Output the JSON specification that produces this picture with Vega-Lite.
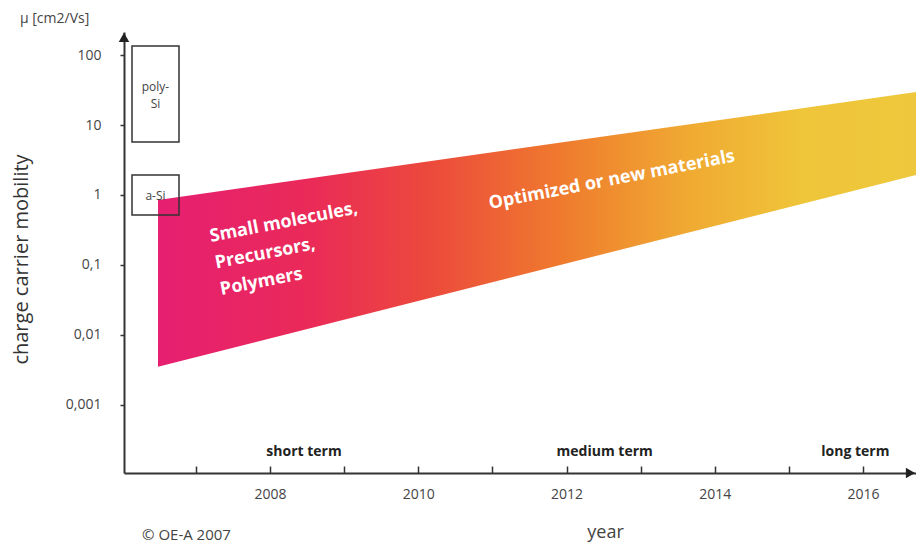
{
  "$schema": "https://vega.github.io/schema/vega-lite/v6.json",
  "width": 792,
  "height": 441,
  "autosize": {"type": "none"},
  "padding": {"left": 124, "top": 32, "right": 0, "bottom": 70},
  "background": "white",
  "config": {
    "view": {"stroke": null},
    "font": "Open Sans",
    "title": {"font": "Open Sans", "fontSize": 14, "fontWeight": "normal", "color": "#444"}
  },
  "title": {"text": "μ [cm2/Vs]", "anchor": "start", "frame": "group", "dx": -104, "offset": 6},
  "datasets": {
    "band": [
      {"year": 2006.489, "lo": 0.00349, "hi": 0.848},
      {"year": 2016.715, "lo": 1.93, "hi": 29.8}
    ],
    "boxes": [
      {"name": "poly-Si", "x1": 2006.138, "x2": 2006.772, "top": 135.7, "bottom": 5.74},
      {"name": "a-Si", "x1": 2006.138, "x2": 2006.772, "top": 1.93, "bottom": 0.517}
    ],
    "boxlabels": [
      {"label": "poly-", "year": 2006.455, "mu": 35.1},
      {"label": "Si", "year": 2006.455, "mu": 20.1},
      {"label": "a-Si", "year": 2006.455, "mu": 0.967}
    ],
    "bandlabels": [
      {"label": "Small molecules,\nPrecursors,\nPolymers", "year": 2007.204, "mu": 0.2125},
      {"label": "Optimized or new materials", "year": 2010.968, "mu": 0.63}
    ],
    "terms": [
      {"label": "short term", "year": 2008.458, "mu": 0.00021},
      {"label": "medium term", "year": 2012.515, "mu": 0.00021},
      {"label": "long term", "year": 2015.897, "mu": 0.00021}
    ],
    "credit": [
      {"label": "© OE-A 2007", "year": 2006.273, "mu": 0.0000136}
    ],
    "arrowY": [{"year": 2006.03, "mu": 180}],
    "arrowX": [{"year": 2016.64, "mu": 0.000105}]
  },
  "layer": [
    {
      "data": {"name": "band"},
      "mark": {
        "type": "area",
        "orient": "vertical",
        "fill": {
          "gradient": "linear", "x1": 0, "x2": 1, "y1": 0, "y2": 0,
          "stops": [
            {"offset": 0, "color": "#e61f72"},
            {"offset": 0.2, "color": "#ea2a58"},
            {"offset": 0.36, "color": "#ec4a3c"},
            {"offset": 0.53, "color": "#ef7a2e"},
            {"offset": 0.7, "color": "#f0aa32"},
            {"offset": 0.85, "color": "#efc53a"},
            {"offset": 1, "color": "#eec83c"}
          ]
        }
      },
      "encoding": {
        "x": {
          "field": "year", "type": "quantitative",
          "scale": {"domain": [2006.03, 2016.715], "nice": false, "zero": false},
          "axis": {
            "values": [2007, 2008, 2009, 2010, 2011, 2012, 2013, 2014, 2015, 2016],
            "labelExpr": "datum.value % 2 == 0 ? format(datum.value, 'd') : ''",
            "grid": false,
            "domainColor": "#333", "domainWidth": 2,
            "tickColor": "#333", "tickWidth": 1.5, "tickSize": -7,
            "labelFont": "Open Sans", "labelFontSize": 14, "labelColor": "#444",
            "labelPadding": 21, "labelFlush": false,
            "title": "year", "titleFont": "Open Sans", "titleFontSize": 18, "titleFontWeight": "normal", "titleColor": "#444",
            "titleX": 481, "titleY": 59, "titleAlign": "center", "titleBaseline": "middle"
          }
        },
        "y": {
          "field": "hi", "type": "quantitative",
          "scale": {"type": "log", "domain": [0.000105, 215], "nice": false},
          "axis": {
            "values": [0.001, 0.01, 0.1, 1, 10, 100],
            "labelExpr": "replace(format(datum.value, '~g'), '.', ',')",
            "grid": false,
            "domainColor": "#333", "domainWidth": 2,
            "tickColor": "#333", "tickWidth": 1.5, "tickSize": 4,
            "labelFont": "Open Sans", "labelFontSize": 14, "labelColor": "#444",
            "labelPadding": 19,
            "title": "charge carrier mobility", "titleFont": "Open Sans", "titleFontSize": 20, "titleFontWeight": "normal", "titleColor": "#333",
            "titleAngle": -90, "titleX": -103, "titleY": 227, "titleAlign": "center", "titleBaseline": "middle"
          }
        },
        "y2": {"field": "lo"}
      }
    },
    {
      "data": {"name": "boxes"},
      "mark": {"type": "rect", "fill": null, "stroke": "#333", "strokeWidth": 1.5},
      "encoding": {
        "x": {"field": "x1", "type": "quantitative"},
        "x2": {"field": "x2"},
        "y": {"field": "top", "type": "quantitative"},
        "y2": {"field": "bottom"}
      }
    },
    {
      "data": {"name": "boxlabels"},
      "mark": {"type": "text", "font": "Open Sans", "fontSize": 12, "color": "#444", "align": "center", "baseline": "middle"},
      "encoding": {
        "x": {"field": "year", "type": "quantitative"},
        "y": {"field": "mu", "type": "quantitative"},
        "text": {"field": "label"}
      }
    },
    {
      "data": {"name": "bandlabels"},
      "mark": {"type": "text", "font": "Open Sans", "fontSize": 18, "fontWeight": "bold", "color": "white", "align": "left", "baseline": "alphabetic", "angle": 349, "lineBreak": "\n", "lineHeight": 27},
      "encoding": {
        "x": {"field": "year", "type": "quantitative"},
        "y": {"field": "mu", "type": "quantitative"},
        "text": {"field": "label"}
      }
    },
    {
      "data": {"name": "terms"},
      "mark": {"type": "text", "font": "Open Sans", "fontSize": 14, "fontWeight": "bold", "color": "#222", "align": "center", "baseline": "middle"},
      "encoding": {
        "x": {"field": "year", "type": "quantitative"},
        "y": {"field": "mu", "type": "quantitative"},
        "text": {"field": "label"}
      }
    },
    {
      "data": {"name": "credit"},
      "mark": {"type": "text", "font": "Open Sans", "fontSize": 15, "color": "#444", "align": "left", "baseline": "middle"},
      "encoding": {
        "x": {"field": "year", "type": "quantitative"},
        "y": {"field": "mu", "type": "quantitative"},
        "text": {"field": "label"}
      }
    },
    {
      "data": {"name": "arrowY"},
      "mark": {"type": "point", "shape": "triangle-up", "size": 110, "filled": true, "color": "#222", "opacity": 1},
      "encoding": {
        "x": {"field": "year", "type": "quantitative"},
        "y": {"field": "mu", "type": "quantitative"}
      }
    },
    {
      "data": {"name": "arrowX"},
      "mark": {"type": "point", "shape": "triangle-right", "size": 110, "filled": true, "color": "#222", "opacity": 1},
      "encoding": {
        "x": {"field": "year", "type": "quantitative"},
        "y": {"field": "mu", "type": "quantitative"}
      }
    }
  ]
}
